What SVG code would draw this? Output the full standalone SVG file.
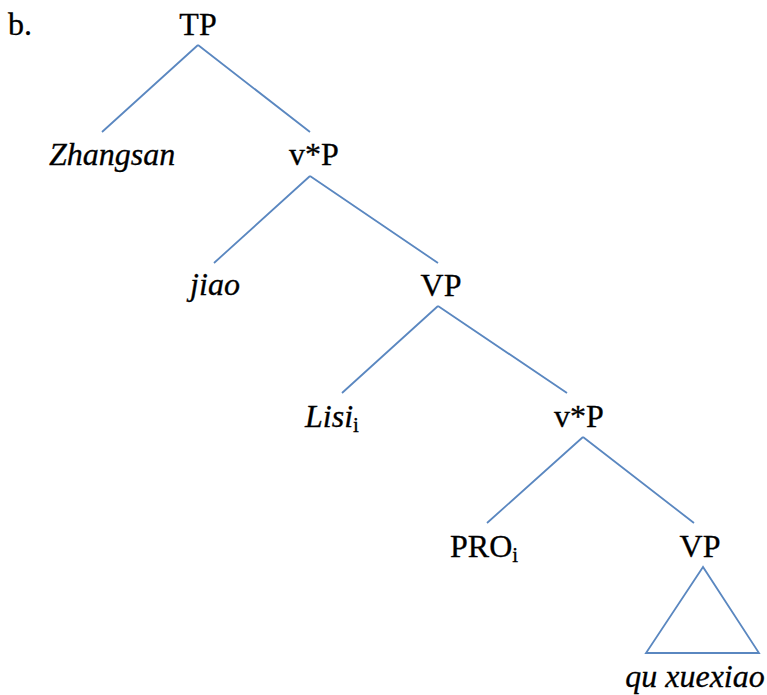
<svg xmlns="http://www.w3.org/2000/svg" width="767" height="695" viewBox="0 0 767 695">
<style>
text{font-family:"Liberation Serif","DejaVu Serif",serif;font-size:32px;fill:#000;stroke:#000;stroke-width:0.3}
.it{font-style:italic}
.sub{font-size:21px;font-style:normal}
.c{text-anchor:middle}
.e{stroke:#5a87c0;stroke-width:1.8;fill:none}
</style>
<rect width="767" height="695" fill="#fff"/>
<g id="connectors">
<path class="e" d="M198 45L102 132M198 45L310 132"/>
<path class="e" d="M310 176L214 263M310 176L438 263"/>
<path class="e" d="M438 306L342 393M438 306L567 393"/>
<path class="e" d="M583 437L487 523M583 437L694 523"/>
<path class="e" d="M703 567L646 653L759 653Z"/>
</g>
<text x="8" y="35">b.</text>
<g id="n-TP"><text class="c" x="198" y="35">TP</text></g>
<g id="n-Zhangsan"><text class="c it" x="112" y="165">Zhangsan</text></g>
<g id="n-vP1"><text class="c" x="314" y="165">v*P</text></g>
<g id="n-jiao"><text class="c it" x="215" y="295">jiao</text></g>
<g id="n-VP1"><text class="c" x="441" y="296">VP</text></g>
<g id="n-Lisi"><text class="it" x="305" y="427">Lisi<tspan class="sub" dy="5">i</tspan></text></g>
<g id="n-vP2"><text class="c" x="579" y="427">v*P</text></g>
<g id="n-PRO"><text x="450" y="557">PRO<tspan class="sub" dy="5">i</tspan></text></g>
<g id="n-VP2"><text class="c" x="700" y="557">VP</text></g>
<g id="n-qu"><text class="c it" x="695" y="687">qu xuexiao</text></g>
</svg>
